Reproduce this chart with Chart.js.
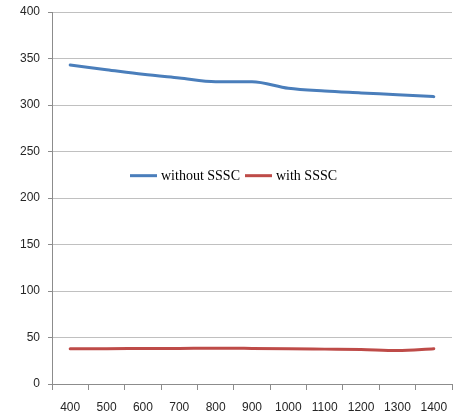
<!DOCTYPE html>
<html>
<head>
<meta charset="utf-8">
<script src="https://cdn.jsdelivr.net/npm/chart.js@4"></script>
<style>
  html, body { margin: 0; padding: 0; background: #ffffff; }
  #wrap { width: 458px; height: 411px; }
</style>
</head>
<body>
<div id="wrap"><canvas id="c" width="458" height="411"></canvas></div>
<script>
// Categories along the x axis
const categories = ['400', '500', '600', '700', '800', '900', '1000', '1100', '1200', '1300', '1400'];
// Series values
const withoutSSSC = [343, 338, 333, 329, 325, 325, 318, 315, 313, 311, 309];
const withSSSC = [38, 38, 38.2, 38.3, 38.5, 38.3, 38, 37.5, 37, 36, 38];
// Series names
const seriesNames = ['without SSSC', 'with SSSC'];
const seriesColors = ['#4a7ebb', '#be4b48'];

// Legend drawn inside the plot area, slightly left of centre
const innerLegend = {
  id: 'innerLegend',
  afterDatasetsDraw(chart) {
    const ctx = chart.ctx;
    const area = chart.chartArea;
    const yScale = chart.scales.y;
    const yc = yScale.getPixelForValue(224);
    ctx.save();
    ctx.font = '14px "Liberation Serif", "Times New Roman", serif';
    ctx.textBaseline = 'middle';
    ctx.textAlign = 'left';
    const lineLen = 27, gapLT = 4, gapItems = 5;
    let x = area.left + 78;
    chart.data.datasets.forEach((d) => {
      ctx.strokeStyle = d.borderColor;
      ctx.lineWidth = 3;
      ctx.beginPath();
      ctx.moveTo(x, yc);
      ctx.lineTo(x + lineLen, yc);
      ctx.stroke();
      ctx.fillStyle = '#000000';
      ctx.fillText(d.label, x + lineLen + gapLT, yc + 1);
      x += lineLen + gapLT + ctx.measureText(d.label).width + gapItems;
    });
    ctx.restore();
  }
};

new Chart(document.getElementById('c'), {
  type: 'line',
  data: {
    labels: categories,
    datasets: [
      { label: seriesNames[0], data: withoutSSSC, borderColor: seriesColors[0], backgroundColor: seriesColors[0] },
      { label: seriesNames[1], data: withSSSC, borderColor: seriesColors[1], backgroundColor: seriesColors[1] }
    ]
  },
  options: {
    responsive: false,
    animation: false,
    devicePixelRatio: 1,
    layout: { padding: { top: 12, right: 6, left: 0, bottom: 0 } },
    elements: {
      line: { borderWidth: 3, cubicInterpolationMode: 'monotone', borderCapStyle: 'round' },
      point: { radius: 0, hoverRadius: 0 }
    },
    plugins: {
      legend: { display: false },
      tooltip: { enabled: false }
    },
    scales: {
      x: {
        offset: true,
        grid: { offset: true, drawOnChartArea: false, tickLength: 6, color: '#8c8c8c' },
        border: { color: '#8c8c8c', width: 1 },
        ticks: { color: '#262626', font: { family: '"Liberation Sans", Arial, sans-serif', size: 12 }, padding: 10, maxRotation: 0, autoSkip: false },
        afterFit(scale) { scale.height = 27; scale.paddingLeft = 0; scale.paddingRight = 0; }
      },
      y: {
        min: 0,
        max: 400,
        ticks: { stepSize: 50, color: '#262626', font: { family: '"Liberation Sans", Arial, sans-serif', size: 12 }, padding: 8 },
        grid: { color: '#c0c0c0', tickLength: 4, tickColor: '#8c8c8c' },
        border: { color: '#8c8c8c', width: 1 },
        afterFit(scale) { scale.width = 52; scale.paddingTop = 0; scale.paddingBottom = 0; }
      }
    }
  },
  plugins: [innerLegend]
});
</script>
</body>
</html>
